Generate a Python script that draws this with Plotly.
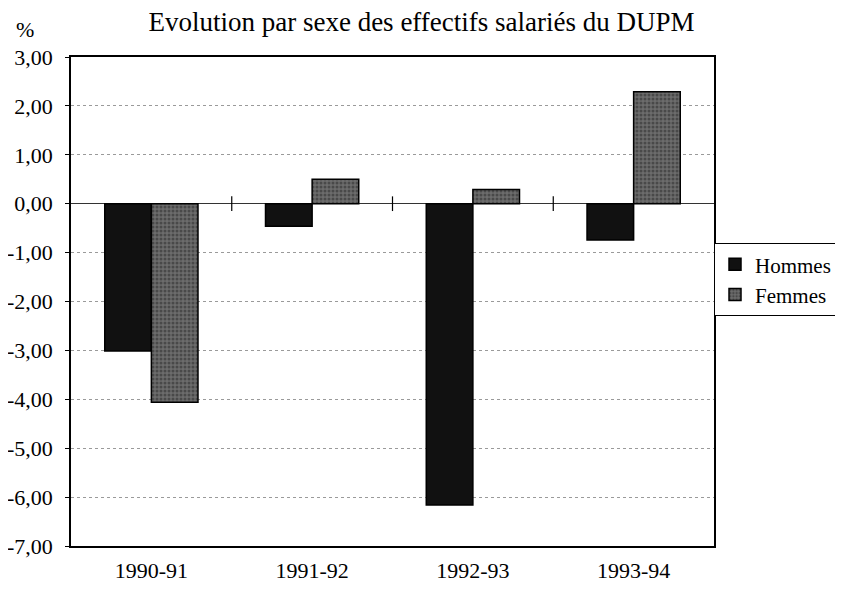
import plotly.graph_objects as go

# Categories and series (% change in salaried staff, by sex)
periods = ["1990-91", "1991-92", "1992-93", "1993-94"]
hommes = [-3.01, -0.46, -6.16, -0.74]
femmes = [-4.06, 0.50, 0.29, 2.29]
y_ticks = [3, 2, 1, 0, -1, -2, -3, -4, -5, -6, -7]
# French decimal comma, plain hyphen for negatives (as in the original)
y_ticktext = [f"{v:.2f}".replace(".", ",") for v in y_ticks]

SERIF = "Liberation Serif, Times New Roman, serif"

fig = go.Figure()
fig.add_trace(go.Bar(
    x=periods, y=hommes, name="Hommes",
    marker=dict(color="#111111", line=dict(color="#000000", width=1.5)),
))
fig.add_trace(go.Bar(
    x=periods, y=femmes, name="Femmes",
    marker=dict(
        color="#6a6a6a",
        line=dict(color="#000000", width=1.5),
        pattern=dict(shape=".", fgcolor="#262626", bgcolor="#6c6c6c", size=4, solidity=0.45),
    ),
))

# Excel-style category separators crossing the zero line
for i in range(len(periods) - 1):
    fig.add_shape(type="line", xref="x", yref="y", x0=i + 0.5, x1=i + 0.5, y0=-0.15, y1=0.15,
                  line=dict(color="#000000", width=1.2))

fig.add_annotation(text="%", xref="paper", yref="paper", x=-0.071, y=1.0, yanchor="bottom",
                   xanchor="center", yshift=13, showarrow=False,
                   font=dict(family=SERIF, size=22, color="#000"))

# page body adds an 8px margin, so the figure is sized to fit inside it
fig.update_layout(
    width=827, height=578,
    margin=dict(l=63, r=117, t=49, b=40),
    paper_bgcolor="white", plot_bgcolor="white",
    barmode="group", bargap=0.42, bargroupgap=0,
    title=dict(text="Evolution par sexe des effectifs salariés du DUPM", x=0.5, xanchor="center",
               xref="container", yref="container", y=0.976, yanchor="middle",
               font=dict(family=SERIF, size=27, color="#000")),
    font=dict(family=SERIF, color="#000"),
    # container-referenced so the legend does not push the right margin
    legend=dict(xref="container", yref="container", x=0.8537, xanchor="left",
                y=0.530, yanchor="middle",
                bordercolor="#000", borderwidth=1, bgcolor="white",
                font=dict(family=SERIF, size=21, color="#000"),
                itemwidth=30, tracegroupgap=0),
    showlegend=True,
)
fig.update_xaxes(
    showline=True, linecolor="#000", linewidth=1.5, mirror=True,
    ticks="", ticklabelstandoff=4, tickfont=dict(family=SERIF, size=22, color="#000"),
    showgrid=False, automargin=False,
)
fig.update_yaxes(
    range=[-7, 3], tickvals=y_ticks, ticktext=y_ticktext,
    showline=True, linecolor="#000", linewidth=1.5, mirror=True,
    ticks="outside", ticklen=4, tickcolor="#000", ticklabelstandoff=8,
    tickfont=dict(family=SERIF, size=22, color="#000"),
    showgrid=True, gridcolor="#9a9a9a", griddash="dot", gridwidth=1,
    zeroline=True, zerolinecolor="#333", zerolinewidth=1.2, automargin=False,
)

fig.write_html("out.html")
